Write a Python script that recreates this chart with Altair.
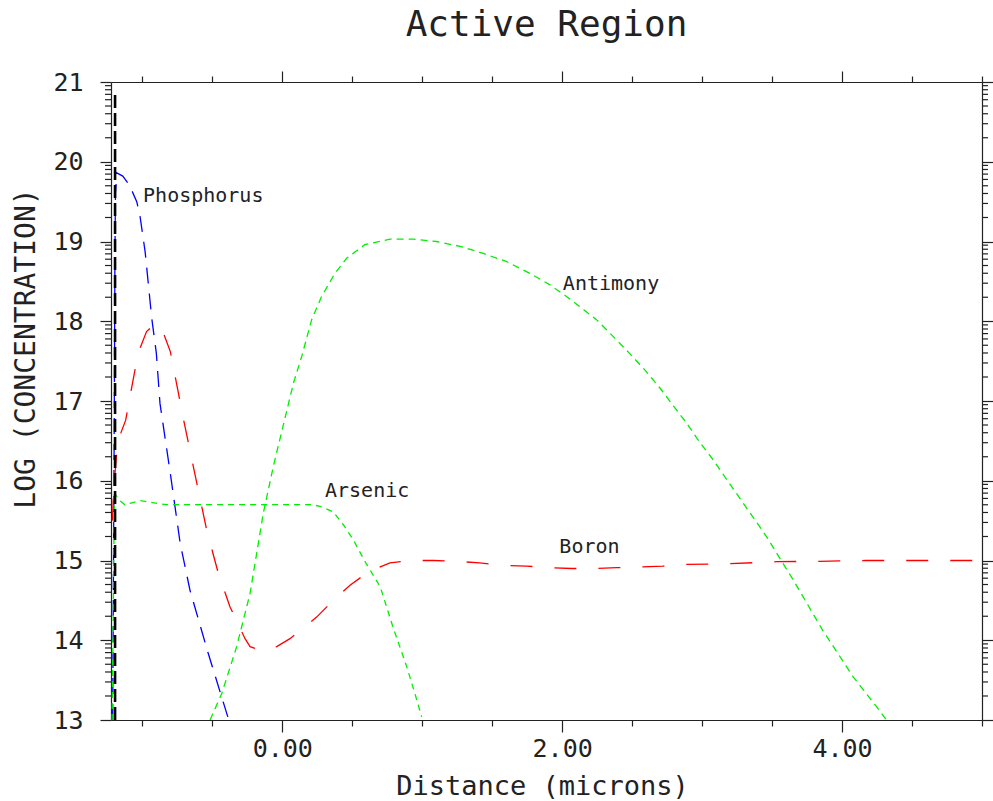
import math
import altair as alt
import pandas as pd

# ---------------- data ----------------
phos_x = [-1.212, -1.206, -1.2, -1.196, -1.192, -1.183, -1.14, -1.093, -1.04, -1.016,
          -0.98, -0.933, -0.90, -0.874, -0.80, -0.73, -0.66, -0.53, -0.386]
phos_y = [13.0, 15.0, 17.0, 18.8, 19.6, 19.86, 19.82, 19.71, 19.50, 19.31,
          18.87, 18.04, 17.60, 16.97, 16.09, 15.22, 14.63, 13.84, 13.02]

bor_x = [-1.214, -1.205, -1.19, -1.177, -1.119, -1.088, -1.03, -0.97, -0.91, -0.857,
         -0.80, -0.707, -0.636, -0.54, -0.457, -0.374, -0.266, -0.23, -0.136, -0.04,
         0.055, 0.245, 0.364, 0.484, 0.626, 0.77, 0.912, 1.08, 1.246, 1.41,
         1.58, 1.745, 1.90, 2.07, 2.22, 2.39, 2.555, 2.72, 2.876, 3.2,
         3.53, 3.84, 4.17, 4.5, 5.0]
bor_y = [15.5, 15.9, 16.2, 16.49, 16.76, 17.06, 17.6, 17.87, 17.97, 17.89,
         17.62, 16.78, 16.18, 15.38, 14.84, 14.42, 14.02, 13.92, 13.86, 13.92,
         14.02, 14.29, 14.50, 14.69, 14.87, 14.97, 15.0, 15.0, 14.99, 14.97,
         14.94, 14.93, 14.91, 14.90, 14.90, 14.91, 14.92, 14.93, 14.95, 14.96,
         14.985, 14.99, 15.0, 15.0, 15.0]

ant_x = [-0.516, -0.433, -0.326, -0.23, -0.136, -0.064, 0.031, 0.079, 0.139, 0.21,
         0.281, 0.376, 0.46, 0.59, 0.77, 0.936, 1.10, 1.27, 1.436, 1.60,
         1.77, 1.91, 2.055, 2.245, 2.364, 2.48, 2.59, 2.70, 2.79, 2.89,
         2.98, 3.08, 3.17, 3.27, 3.46, 3.65, 3.86, 4.08, 4.245, 4.317]
ant_y = [13.0, 13.33, 13.92, 14.59, 15.59, 16.18, 16.87, 17.22, 17.56, 18.02,
         18.31, 18.60, 18.79, 18.96, 19.03, 19.03, 19.0, 18.94, 18.85, 18.75,
         18.60, 18.46, 18.28, 18.02, 17.81, 17.60, 17.39, 17.16, 16.95, 16.72,
         16.49, 16.26, 16.03, 15.78, 15.30, 14.76, 14.13, 13.54, 13.17, 13.0]

ars_x = [-1.216, -1.21, -1.204, -1.2, -1.19, -1.16, -1.125, -1.06, -1.016, -0.83,
         -0.5, 0.0, 0.126, 0.21, 0.27, 0.364, 0.436, 0.507, 0.60, 0.70,
         0.79, 0.889, 0.948, 0.996]
ars_y = [13.0, 14.0, 15.0, 15.88, 15.82, 15.75, 15.70, 15.73, 15.75, 15.70,
         15.70, 15.70, 15.70, 15.70, 15.68, 15.61, 15.45, 15.26, 14.96, 14.67,
         14.17, 13.67, 13.33, 13.04]

junction_x = [-1.195]
junction_y0 = [13.0]
junction_y1 = [20.88]

label_text = ["Phosphorus", "Antimony", "Arsenic", "Boron"]
label_x = [-0.995, 2.005, 0.305, 1.98]
label_y = [19.57, 18.47, 15.87, 15.17]

x_major_ticks = [0.0, 2.0, 4.0]
x_minor_ticks = [-1.0, -0.5, 0.5, 1.0, 1.5, 2.5, 3.0, 3.5, 4.5, 5.0]
y_major_ticks = [13, 14, 15, 16, 17, 18, 19, 20, 21]
y_minor_ticks = [round(d + math.log10(k), 5) for d in y_major_ticks[:-1] for k in range(2, 10)]

# ---------------- styling ----------------
FONT = "DejaVu Sans Mono"
INK = "#222222"
X_DOMAIN = [-1.224, 5.0]
Y_DOMAIN = [13, 21]

XS = alt.Scale(domain=X_DOMAIN, nice=False, zero=False)
YS = alt.Scale(domain=Y_DOMAIN, nice=False, zero=False)

common = dict(grid=False, domainColor=INK, tickColor=INK, domainWidth=1.2,
              tickWidth=1.2, labelOverlap=False, labelFlush=False, tickCount=500,
              labelFont=FONT, labelColor=INK, titleFont=FONT, titleColor=INK,
              titleFontWeight="normal")
minor = dict(grid=False, tickColor=INK, tickWidth=1.2, tickCount=500,
             labelOpacity=0, labelFontSize=1, domain=False, title="")

x_bottom = alt.Axis(orient="bottom", values=x_major_ticks, tickSize=12, format=".2f",
                    labelFontSize=25, labelPadding=4,
                    title="Distance (microns)", titleFontSize=27,
                    titleX=431, titleY=66, titleBaseline="middle", **common)
x_bottom_minor = alt.Axis(orient="bottom", values=x_minor_ticks, tickSize=6, **minor)
y_left = alt.Axis(orient="left", values=y_major_ticks, tickSize=11, format="d",
                  labelFontSize=25, labelPadding=17,
                  title="LOG (CONCENTRATION)", titleFontSize=28,
                  titleAngle=-90, titleX=-85, titleY=266,
                  titleAlign="center", titleBaseline="middle", **common)
x_top = alt.Axis(orient="top", values=x_major_ticks, tickSize=11,
                 labels=False, title="", **common)
x_top_minor = alt.Axis(orient="top", values=x_minor_ticks, tickSize=6, **minor)
y_right = alt.Axis(orient="right", values=y_major_ticks, tickSize=11,
                   labels=False, title="", **common)


def frame(xs, ys):
    return pd.DataFrame({"x": xs, "y": ys, "i": list(range(len(xs)))})


def series(xs, ys, color, dash, xaxis, yaxis):
    return alt.Chart(frame(xs, ys)).mark_line(
        color=color, strokeDash=dash, strokeWidth=1.3, clip=True
    ).encode(
        x=alt.X("x:Q", scale=XS, axis=xaxis),
        y=alt.Y("y:Q", scale=YS, axis=yaxis),
        order="i:Q",
    )


phos = series(phos_x, phos_y, "#0000ff", [16, 10], x_bottom, y_left)
boron = series(bor_x, bor_y, "#ff0000", [22, 22], x_bottom_minor, None)
antimony = series(ant_x, ant_y, "#00ee00", [7, 5], x_top, y_right)
arsenic = series(ars_x, ars_y, "#00ee00", [6, 5], x_top_minor, None)

# log-style minor ticks of the left and right frame edges
minor_df = pd.DataFrame({"v": y_minor_ticks})


def minor_ticks(edge, shift):
    return alt.Chart(minor_df).mark_tick(
        orient="horizontal", size=6, thickness=1.2, color=INK, opacity=1, xOffset=shift
    ).encode(
        x=alt.X(datum=edge, type="quantitative", scale=XS, axis=None),
        y=alt.Y("v:Q", scale=YS, axis=None),
    )


left_minor = minor_ticks(X_DOMAIN[0], -3)
right_minor = minor_ticks(X_DOMAIN[1], 3)

junction = alt.Chart(pd.DataFrame({"x": junction_x, "y0": junction_y0, "y1": junction_y1})).mark_rule(
    color="#000000", strokeWidth=2.6, strokeDash=[13, 5]
).encode(
    x=alt.X("x:Q", scale=XS, axis=None),
    y=alt.Y("y0:Q", scale=YS, axis=None),
    y2="y1:Q",
)

labels = alt.Chart(pd.DataFrame({"t": label_text, "x": label_x, "y": label_y})).mark_text(
    align="left", baseline="middle", font=FONT, fontSize=20, color=INK
).encode(
    x=alt.X("x:Q", scale=XS, axis=None),
    y=alt.Y("y:Q", scale=YS, axis=None),
    text="t:N",
)

chart = alt.layer(phos, boron, antimony, arsenic, left_minor, right_minor, junction, labels).resolve_axis(
    x="independent", y="independent"
).properties(
    width=871,
    height=638,
    title=alt.TitleParams("Active Region", font=FONT, fontSize=36,
                          fontWeight="normal", color=INK, anchor="middle", offset=26),
    autosize=alt.AutoSizeParams(type="none"),
    padding={"left": 111, "top": 82, "right": 11, "bottom": 81},
).configure_view(stroke=None).configure(background="white")

chart.save("out.html", embed_options={"renderer": "svg", "actions": False})
